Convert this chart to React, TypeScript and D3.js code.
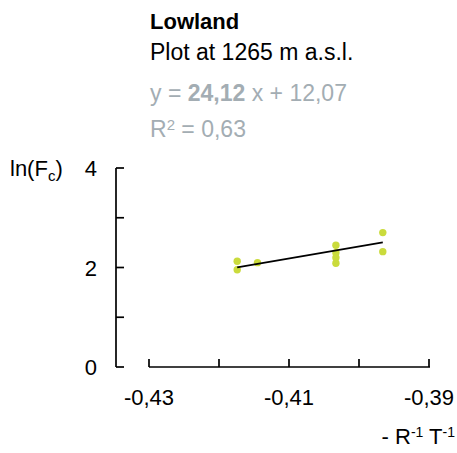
import React from "react";
import * as d3 from "d3";

const xValues = [-0.4174, -0.4174, -0.4145, -0.4033, -0.4033, -0.4033, -0.4033, -0.3966, -0.3966];
const yValues = [2.125, 1.956, 2.097, 2.448, 2.298, 2.198, 2.085, 2.702, 2.319];
const slope = 24.12;
const intercept = 12.07;
const xTicks = [-0.43, -0.42, -0.41, -0.4, -0.39];
const xTickLabels = ["-0,43", "", "-0,41", "", "-0,39"];
const yTicks = [0, 1, 2, 3, 4];
const yTickLabels = ["0", "", "2", "", "4"];

const W = 457;
const H = 453;
const FONT = "'Liberation Sans', Arial, sans-serif";
const FS = 22;
const FS2 = 23;

export default function App() {
  const x = d3.scaleLinear().domain([-0.43, -0.39]).range([149, 429]);
  const y = d3.scaleLinear().domain([0, 4]).range([367, 168]);
  const xMin = d3.min(xValues) as number;
  const xMax = d3.max(xValues) as number;
  const line = d3.line<number>().x((d) => x(d)).y((d) => y(slope * d + intercept));
  const pts = xValues.map((v, i) => ({ x: v, y: yValues[i] }));
  const grey = "#a3adb3";
  return (
    <svg width={W} height={H} style={{ position: "absolute", left: 0, top: 0, background: "#fff" }} fontFamily={FONT}>
      <text x={150} y={29} fontSize={FS} fontWeight="bold" fill="#000">Lowland</text>
      <text x={150} y={59.5} fontSize={FS2} fill="#000">Plot at 1265 m a.s.l.</text>
      <text x={150} y={101} fontSize={FS2} fill={grey}>
        y = <tspan fontWeight="bold">24,12</tspan> x + 12,07
      </text>
      <text x={150} y={137} fontSize={FS2} fill={grey}>
        R<tspan dy={-7} fontSize={15}>2</tspan><tspan dy={7}> = 0,63</tspan>
      </text>

      {/* Y axis */}
      <line x1={116} x2={116} y1={y(4)} y2={y(0)} stroke="#000" strokeWidth={1.7} />
      {yTicks.map((t, i) => (
        <g key={"yt" + i}>
          <line x1={116} x2={124} y1={y(t)} y2={y(t)} stroke="#000" strokeWidth={1.7} />
          {yTickLabels[i] && (
            <text x={97} y={y(t) + 8} fontSize={FS} textAnchor="end" fill="#000">{yTickLabels[i]}</text>
          )}
        </g>
      ))}
      <text x={10} y={y(4) + 8} fontSize={FS} fill="#000">
        ln(F<tspan dy={5} fontSize={15}>c</tspan><tspan dy={-5}>)</tspan>
      </text>

      {/* X axis */}
      <line x1={x(-0.43)} x2={x(-0.39) + 1} y1={367} y2={367} stroke="#000" strokeWidth={1.7} />
      {xTicks.map((t, i) => (
        <g key={"xt" + i}>
          <line x1={x(t)} x2={x(t)} y1={367} y2={359} stroke="#000" strokeWidth={1.7} />
          {xTickLabels[i] && (
            <text x={x(t)} y={405} fontSize={FS} textAnchor="middle" fill="#000">{xTickLabels[i]}</text>
          )}
        </g>
      ))}
      <text x={455} y={444} fontSize={FS} textAnchor="end" fill="#000">
        - R<tspan dy={-7} fontSize={14}>-1</tspan><tspan dy={7}> T</tspan><tspan dy={-7} fontSize={14}>-1</tspan>
      </text>

      {pts.map((p, i) => (
        <circle key={i} cx={x(p.x)} cy={y(p.y)} r={3.7} fill="#cadb3c" />
      ))}
      <path d={line([xMin, xMax]) || ""} stroke="#000" strokeWidth={1.7} fill="none" />
    </svg>
  );
}
